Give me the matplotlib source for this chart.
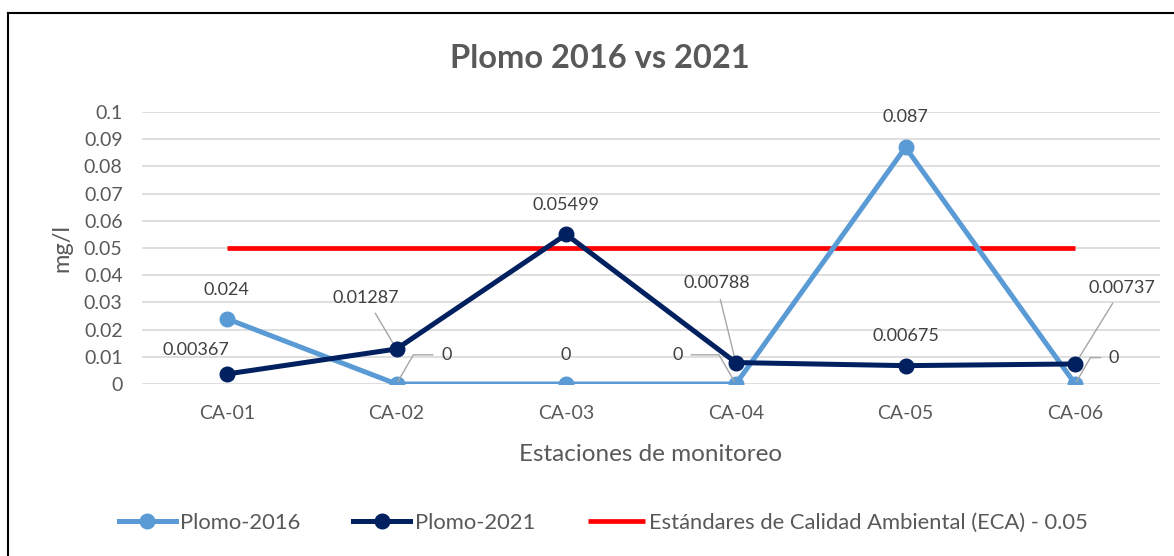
import matplotlib.pyplot as plt
from matplotlib.lines import Line2D

plt.rcParams['font.family'] = ['Lato', 'DejaVu Sans']

estaciones = ['CA-01', 'CA-02', 'CA-03', 'CA-04', 'CA-05', 'CA-06']
plomo_2016 = [0.024, 0, 0, 0, 0.087, 0]
plomo_2021 = [0.00367, 0.01287, 0.05499, 0.00788, 0.00675, 0.00737]
eca = [0.05] * len(estaciones)

yticks = [0, 0.01, 0.02, 0.03, 0.04, 0.05, 0.06, 0.07, 0.08, 0.09, 0.1]
ytick_labels = ['0', '0.01', '0.02', '0.03', '0.04', '0.05', '0.06', '0.07', '0.08', '0.09', '0.1']

c16 = '#5B9BD5'
c21 = '#002060'
gris = '#595959'
gris_lbl = '#404040'

fig = plt.figure(figsize=(11.74, 5.56), dpi=100)
ax = fig.add_axes([142 / 1174, 1 - 384 / 556, 1018 / 1174, 272 / 556])

x = list(range(len(estaciones)))
ax.plot(x, eca, color='#FF0000', lw=3.4, solid_capstyle='butt', zorder=2,
        label='Estándares de Calidad Ambiental (ECA) - 0.05')
ax.plot(x, plomo_2016, color=c16, lw=3.6, marker='o', ms=10.5, zorder=3,
        label='Plomo-2016')
ax.plot(x, plomo_2021, color=c21, lw=3.6, marker='o', ms=10.5, zorder=4,
        label='Plomo-2021')

ax.set_xlim(-0.5, 5.5)
ax.set_ylim(0, 0.1)
ax.set_yticks(yticks)
ax.set_yticklabels(ytick_labels)
ax.set_xticks(x)
ax.set_xticklabels(estaciones)
ax.tick_params(axis='both', length=0, labelsize=14, colors=gris)
ax.tick_params(axis='x', pad=15)
ax.tick_params(axis='y', pad=14)
ax.grid(axis='y', color='#D9D9D9', lw=1.2)
ax.set_axisbelow(True)
for s in ax.spines.values():
    s.set_visible(False)

ax.set_ylabel('mg/l', fontsize=17, color=gris, labelpad=8)
ax.set_xlabel('Estaciones de monitoreo', fontsize=17.5, color=gris, labelpad=16)

fig.text(0.511, 1 - 58 / 556, 'Plomo 2016 vs 2021', ha='center', va='center',
         fontsize=23.5, fontweight='bold', color=gris)

# etiquetas de datos (desplazamientos en puntos)
kw = dict(textcoords='offset points', ha='center', va='center',
          fontsize=13, color=gris_lbl)
leader = dict(arrowstyle='-', color='#A6A6A6', lw=1)


def etiqueta(i, serie, dx, dy, con=None):
    txt = '0' if serie[i] == 0 else f'{serie[i]:g}'
    ap = None
    if con is not None:
        ap = dict(leader, connectionstyle=con, shrinkA=4, shrinkB=2)
    ax.annotate(txt, (i, serie[i]), xytext=(dx, dy), arrowprops=ap, **kw)


# Plomo-2016
etiqueta(0, plomo_2016, 0, 21)
etiqueta(1, plomo_2016, 36, 21, 'angle,angleA=0,angleB=60,rad=0')
etiqueta(2, plomo_2016, 0, 21)
etiqueta(3, plomo_2016, -42, 21, 'angle,angleA=180,angleB=120,rad=0')
etiqueta(4, plomo_2016, 0, 22)
etiqueta(5, plomo_2016, 28, 19, 'angle,angleA=0,angleB=60,rad=0')

# Plomo-2021
etiqueta(0, plomo_2021, -22, 17)
etiqueta(1, plomo_2021, -22, 37, 'arc3')
etiqueta(2, plomo_2021, 0, 21)
etiqueta(3, plomo_2021, -14, 57, 'arc3')
etiqueta(4, plomo_2021, 0, 21)
etiqueta(5, plomo_2021, 34, 55, 'arc3')

h, l = ax.get_legend_handles_labels()
orden = [1, 2, 0]
fig.legend([h[i] for i in orden], [l[i] for i in orden], loc='center',
           bbox_to_anchor=(0.514, 1 - 523 / 556), ncol=3, frameon=False,
           fontsize=15.8, labelcolor=gris, handlelength=2.6, handletextpad=0.2,
           columnspacing=2.4)

# borde del gráfico
fig.add_artist(Line2D([8 / 1174, 1.0], [1 - 13 / 556] * 2, color='black', lw=1.5,
                      transform=fig.transFigure))
fig.add_artist(Line2D([8 / 1174] * 2, [0, 1 - 13 / 556], color='black', lw=1.5,
                      transform=fig.transFigure))

fig.savefig('out.png', dpi=100)
